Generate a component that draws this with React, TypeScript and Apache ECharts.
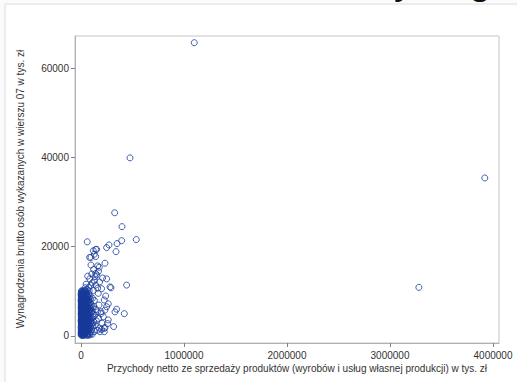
import React, { useEffect, useRef } from "react";
import * as echarts from "echarts";

const xTicks = [0, 1000000, 2000000, 3000000, 4000000];
const yTicks = [0, 20000, 40000, 60000];

const xTitle = "Przychody netto ze sprzedaży produktów (wyrobów i usług własnej produkcji) w tys. zł";
const yTitle = "Wynagrodzenia brutto osób wykazanych w wierszu 07 w tys. zł";

const outliers: [number, number][] = [
  [1100000, 65700], [476000, 39900], [3920000, 35400], [3280000, 10900],
];

const upperPoints: [number, number][] = [
  [327000, 27600], [398000, 24500], [61000, 21100], [395000, 21350], [537000, 21600],
  [350000, 20700], [272000, 20400], [249000, 19800], [143000, 19400], [120000, 19100],
  [340000, 18900], [129000, 18300], [84000, 17600], [97000, 17600], [143000, 17800],
  [233000, 16300], [97000, 15900], [162000, 15700], [178000, 15400], [123000, 14900],
  [143000, 14000], [152000, 19400],
];

const midPoints: [number, number][] = [
  [249000, 12800], [282000, 11000], [291000, 10800], [443000, 11400], [421000, 5000],
  [346000, 6000], [330000, 5400], [317000, 2100], [265000, 3600], [259000, 2800],
  [226000, 960], [184000, 960], [200000, 1500], [233000, 1900], [217000, 4300],
  [194000, 5450], [233000, 5800], [249000, 6560], [265000, 7200], [226000, 8060],
  [240000, 8960], [168000, 9560], [162000, 10700], [143000, 11400], [136000, 13300],
  [152000, 13700], [226000, 1700],
  [60000, 10400], [75000, 10900], [95000, 11300], [110000, 11900], [50000, 11600],
  [130000, 12400], [85000, 12800], [65000, 13400], [105000, 13900], [180000, 12100],
  [200000, 10600], [120000, 10200], [40000, 10800], [170000, 14500], [210000, 13000],
];

const clusterPoints: [number, number][] = [
  [2000, 180], [8000, 320], [15000, 90], [22000, 260], [30000, 150], [41000, 340], [55000, 210], [70000, 120], [90000, 280],
  [1000, 640], [6000, 520], [12000, 710], [19000, 580], [27000, 690], [36000, 470], [48000, 760], [63000, 560], [80000, 650], [110000, 420],
  [3000, 1040], [9000, 920], [16000, 1120], [24000, 980], [33000, 1210], [45000, 870], [58000, 1060], [75000, 1180], [95000, 940], [130000, 1020],
  [2000, 1480], [7000, 1590], [14000, 1390], [21000, 1620], [29000, 1450], [39000, 1560], [52000, 1380], [68000, 1650], [85000, 1520], [160000, 1290],
  [1000, 2040], [5000, 1930], [11000, 2160], [18000, 1880], [26000, 2090], [35000, 2210], [47000, 1960], [62000, 2120], [78000, 1850], [115000, 2230], [180000, 1750],
  [3000, 2480], [8000, 2610], [15000, 2390], [23000, 2560], [32000, 2440], [44000, 2680], [57000, 2520], [72000, 2370], [100000, 2590], [140000, 2460],
  [2000, 3050], [6000, 2920], [13000, 3140], [20000, 2980], [28000, 3090], [38000, 2870], [50000, 3170], [66000, 3010], [88000, 2940], [125000, 3120], [205000, 2850],
  [1000, 3520], [5000, 3410], [10000, 3630], [17000, 3470], [25000, 3580], [34000, 3390], [46000, 3660], [60000, 3440], [82000, 3550], [150000, 3380],
  [3000, 4020], [9000, 3930], [14000, 4110], [22000, 3960], [31000, 4070], [42000, 3890], [55000, 4150], [74000, 3980], [105000, 4090], [170000, 3920],
  [2000, 4480], [7000, 4590], [12000, 4410], [19000, 4540], [27000, 4460], [37000, 4620], [49000, 4390], [65000, 4570], [92000, 4430], [135000, 4610],
  [1000, 5030], [4000, 4920], [10000, 5110], [16000, 4960], [24000, 5070], [33000, 4890], [45000, 5140], [61000, 4980], [86000, 5060], [120000, 4940], [195000, 5020],
  [3000, 5490], [8000, 5580], [13000, 5410], [21000, 5530], [30000, 5460], [41000, 5610], [54000, 5430], [77000, 5560], [108000, 5470], [160000, 5390],
  [2000, 6040], [6000, 5930], [11000, 6120], [18000, 5970], [26000, 6080], [36000, 5910], [48000, 6150], [64000, 6010], [95000, 6090], [145000, 5950],
  [1000, 6480], [5000, 6590], [9000, 6420], [15000, 6550], [23000, 6470], [32000, 6610], [43000, 6440], [58000, 6560], [83000, 6490], [125000, 6620],
  [3000, 7030], [7000, 6920], [12000, 7110], [20000, 6960], [28000, 7070], [39000, 6900], [52000, 7140], [70000, 6980], [100000, 7060], [175000, 6940],
  [2000, 7490], [6000, 7580], [10000, 7420], [17000, 7530], [25000, 7460], [35000, 7610], [47000, 7440], [63000, 7550], [90000, 7470],
  [1000, 8020], [4000, 7930], [8000, 8110], [14000, 7960], [22000, 8070], [31000, 7910], [42000, 8140], [56000, 7990], [78000, 8060], [130000, 7940],
  [3000, 8480], [7000, 8570], [12000, 8420], [19000, 8530], [27000, 8460], [38000, 8600], [51000, 8440], [68000, 8550], [112000, 8470],
  [2000, 9030], [5000, 8930], [10000, 9110], [16000, 8970], [24000, 9070], [34000, 8920], [46000, 9130], [62000, 9000], [88000, 9060],
  [1000, 9480], [6000, 9570], [13000, 9430], [21000, 9540], [30000, 9460], [41000, 9590], [55000, 9440], [74000, 9520],
  [4000, 10020], [9000, 10140], [17000, 9960], [26000, 10080], [37000, 10190], [50000, 10010], [80000, 10110],
];

const clusterCore: [number, number][] = [
  [4000, 410], [11000, 380], [26000, 520], [44000, 600], [66000, 340], [85000, 470],
  [5000, 1270], [18000, 1300], [37000, 1330], [60000, 1250], [102000, 1400],
  [9000, 1770], [24000, 1720], [43000, 1800], [70000, 1760], [96000, 2080],
  [5000, 2730], [18000, 2760], [35000, 2800], [54000, 2770], [80000, 2700], [112000, 2860],
  [8000, 3280], [23000, 3300], [41000, 3250], [71000, 3290], [98000, 3330],
  [5000, 3800], [19000, 3780], [36000, 3820], [64000, 3760], [90000, 3830],
  [9000, 4290], [25000, 4250], [44000, 4300], [80000, 4270], [118000, 4230],
  [6000, 4760], [21000, 4740], [40000, 4790], [56000, 4720], [75000, 4800],
  [7000, 5260], [19000, 5300], [37000, 5230], [68000, 5280], [98000, 5310],
  [4000, 5780], [15000, 5740], [33000, 5800], [57000, 5760], [84000, 5790],
  [8000, 6270], [21000, 6300], [40000, 6250], [70000, 6290], [110000, 6330],
  [4000, 6770], [17000, 6740], [35000, 6800], [61000, 6760], [88000, 6790],
  [8000, 7260], [23000, 7300], [44000, 7240], [76000, 7280],
  [4000, 7760], [19000, 7730], [38000, 7790], [69000, 7750],
  [10000, 8280], [25000, 8300], [46000, 8250], [92000, 8270],
  [7000, 8760], [22000, 8730], [43000, 8790], [70000, 8750],
  [11000, 9260], [27000, 9290], [50000, 9250],
  [8000, 9790], [23000, 9760], [45000, 9800],
];

const allPoints: [number, number][] = [...clusterPoints, ...clusterCore, ...midPoints, ...upperPoints, ...outliers];

export default function App() {
  const ref = useRef<HTMLDivElement>(null);
  useEffect(() => {
    if (!ref.current) return;
    const chart = echarts.init(ref.current, null, { renderer: "svg" });
    const font = "'Liberation Sans', Arial, sans-serif";
    chart.setOption({
      animation: false,
      backgroundColor: "#fbfbfb",
      grid: {
        left: 75, top: 36, width: 424, height: 307,
        show: true, borderColor: "#c4c4c4", borderWidth: 1, backgroundColor: "#ffffff",
      },
      xAxis: {
        type: "value", min: -58000, max: 4058000,
        splitLine: { show: false },
        axisLine: { show: true, onZero: false, lineStyle: { color: "#b0b0b0" } },
        axisTick: { show: true, customValues: xTicks, length: 4, lineStyle: { color: "#808080" } },
        axisLabel: { customValues: xTicks, color: "#333333", fontSize: 10, fontFamily: font, margin: 7, formatter: (v: number) => String(v) },
      },
      yAxis: {
        type: "value", min: -1570, max: 67200,
        splitLine: { show: false },
        axisLine: { show: true, onZero: false, lineStyle: { color: "#b0b0b0" } },
        axisTick: { show: true, customValues: yTicks, length: 4, lineStyle: { color: "#808080" } },
        axisLabel: { customValues: yTicks, color: "#333333", fontSize: 10, fontFamily: font, margin: 6, formatter: (v: number) => String(v) },
      },
      graphic: [
        { type: "rect", shape: { x: 5, y: 4, width: 520, height: 390 }, style: { fill: "#ffffff", stroke: "#dcdcdc", lineWidth: 1 }, z: -10 },
        { type: "text", x: 404, y: -20, style: { text: "y", fill: "#111", font: "40px 'Liberation Sans', Arial, sans-serif", textAlign: "center", textVerticalAlign: "middle" }, z: 5 },
        { type: "text", x: 480, y: -20, style: { text: "g", fill: "#111", font: "40px 'Liberation Sans', Arial, sans-serif", textAlign: "center", textVerticalAlign: "middle" }, z: 5 },
        { type: "text", x: 297, y: 368, style: { text: xTitle, fill: "#333333", font: "10px 'Liberation Sans', Arial, sans-serif", textAlign: "center", textVerticalAlign: "middle" } },
        { type: "text", x: 20, y: 189, rotation: Math.PI / 2, style: { text: yTitle, fill: "#333333", font: "10px 'Liberation Sans', Arial, sans-serif", textAlign: "center", textVerticalAlign: "middle" } },
      ],
      series: [
        {
          type: "scatter",
          data: allPoints,
          symbol: "circle",
          symbolSize: 6,
          itemStyle: { color: "rgba(0,0,0,0)", borderColor: "#16399a", borderWidth: 1 },
        },
      ],
    });
    return () => chart.dispose();
  }, []);
  return <div ref={ref} style={{ position: "fixed", left: 0, top: 0, width: 517, height: 382 }} />;
}
